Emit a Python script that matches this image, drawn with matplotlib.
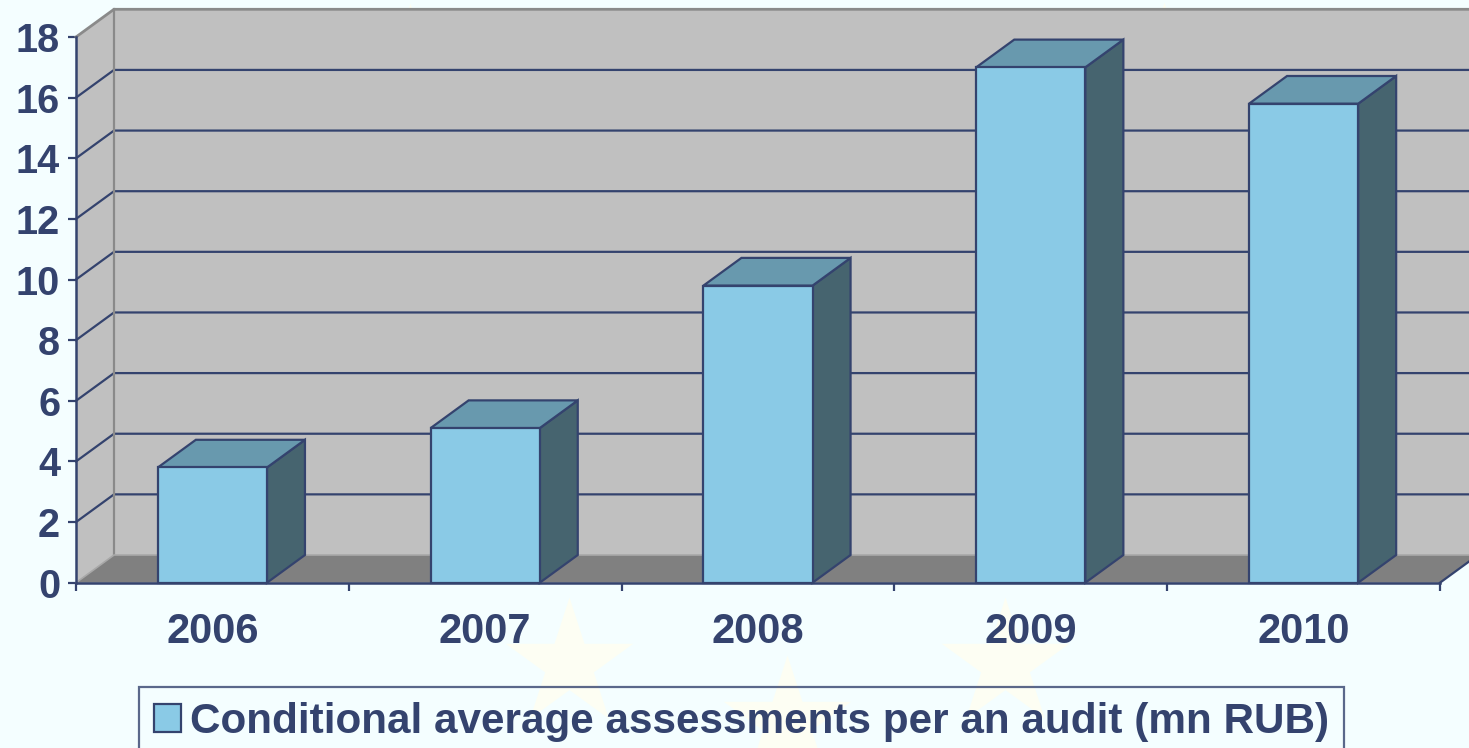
import numpy as np
import matplotlib.pyplot as plt
from matplotlib.patches import Polygon, Patch

# ---- data ----
years = ["2006", "2007", "2008", "2009", "2010"]
assessments = [3.8, 5.1, 9.8, 17.0, 15.8]
y_ticks = [0, 2, 4, 6, 8, 10, 12, 14, 16, 18]
series_name = "Conditional average assessments per an audit (mn RUB)"

# ---- style ----
BG = "#F4FEFF"
NAVY = "#34436E"
WALL = "#C0C0C0"
FLOOR = "#808080"
EDGE_GRAY = "#8A8A8A"
FRONT = "#8ACAE6"
TOP = "#6899AE"
SIDE = "#46646F"
STAR = "#FDFEF3"
FONT = "Liberation Sans"

W, H, DPI = 1469, 748, 100
fig = plt.figure(figsize=(W / DPI, H / DPI), dpi=DPI, facecolor=BG)

# faint decorative ring of stars behind the chart (pixel space)
bg = fig.add_axes([0, 0, 1, 1], zorder=0)
bg.set_xlim(0, W)
bg.set_ylim(H, 0)
bg.axis("off")
ang = np.deg2rad(np.arange(12) * 30)
ring_x = 787 - 435 * np.sin(ang)
ring_y = 287 + 435 * np.cos(ang)
bg.scatter(ring_x, ring_y, marker="*", s=9300, color=STAR, linewidths=0)

# main plot: front plane of the 3-D box
left, right, top, base = 76, 1440, 37, 582.7
ax = fig.add_axes([left / W, (H - base) / H, (right - left) / W, (base - top) / H],
                  zorder=1)
ax.set_facecolor("none")
n = len(years)
ymax = 18
ax.set_xlim(0, n)
ax.set_ylim(0, ymax)

# depth offset of the back wall, in data units
dx = 38 / ((right - left) / n)
dy = 27.7 / ((base - top) / ymax)

kw = dict(clip_on=False)
# back wall, side wall, floor
ax.add_patch(Polygon([(dx, dy), (n + dx + 1, dy), (n + dx + 1, ymax + dy), (dx, ymax + dy)],
                     closed=True, facecolor=WALL, edgecolor="none", zorder=1, **kw))
ax.add_patch(Polygon([(0, 0), (dx, dy), (dx, ymax + dy), (0, ymax)],
                     closed=True, facecolor=WALL, edgecolor="none", zorder=1, **kw))
ax.add_patch(Polygon([(0, 0), (n, 0), (n + dx, dy), (dx, dy)],
                     closed=True, facecolor=FLOOR, edgecolor="none", zorder=1, **kw))

# gridlines on side and back walls
for v in y_ticks[1:-1]:
    ax.plot([0, dx, n + dx + 1], [v, v + dy, v + dy], color=NAVY, lw=1.6,
            zorder=2, **kw)
# wall outlines
ax.plot([0, dx, n + dx + 1], [ymax, ymax + dy, ymax + dy], color=EDGE_GRAY, lw=2,
        zorder=2, **kw)
ax.plot([dx, dx], [dy, ymax + dy], color=EDGE_GRAY, lw=1.6, zorder=2, **kw)
ax.plot([0, dx, n + dx + 1], [0, dy, dy], color="#A8A8A8", lw=1.2, zorder=2, **kw)
ax.plot([n, n + dx], [0, dy], color=NAVY, lw=1.6, zorder=2, **kw)

# 3-D bars
bw = 0.4
for i, v in enumerate(assessments):
    x0 = i + 0.5 - bw / 2
    x1 = x0 + bw
    ax.add_patch(Polygon([(x1, 0), (x1 + dx, dy), (x1 + dx, v + dy), (x1, v)],
                         closed=True, facecolor=SIDE, edgecolor=NAVY, lw=1.6,
                         joinstyle="miter", zorder=3, **kw))
    ax.add_patch(Polygon([(x0, v), (x1, v), (x1 + dx, v + dy), (x0 + dx, v + dy)],
                         closed=True, facecolor=TOP, edgecolor=NAVY, lw=1.6,
                         joinstyle="miter", zorder=3, **kw))
    ax.add_patch(Polygon([(x0, 0), (x1, 0), (x1, v), (x0, v)],
                         closed=True, facecolor=FRONT, edgecolor=NAVY, lw=1.6,
                         joinstyle="miter", zorder=4, **kw))

# axes, ticks and labels
for s in ["top", "right"]:
    ax.spines[s].set_visible(False)
for s in ["left", "bottom"]:
    ax.spines[s].set_color(NAVY)
    ax.spines[s].set_linewidth(1.8)
    ax.spines[s].set_zorder(5)

ax.set_yticks(y_ticks)
ax.set_yticklabels([str(t) for t in y_ticks])
ax.tick_params(axis="y", direction="out", length=6, width=1.6, color=NAVY,
               pad=5.5, labelsize=28.5, labelcolor=NAVY)

ax.set_xticks(np.arange(n) + 0.5)
ax.set_xticklabels(years)
ax.set_xticks(np.arange(n + 1), minor=True)
ax.tick_params(axis="x", which="major", length=0, pad=21, labelsize=30,
               labelcolor=NAVY)
ax.tick_params(axis="x", which="minor", direction="out", length=6, width=1.6,
               color=NAVY)
for lab in ax.get_xticklabels() + ax.get_yticklabels():
    lab.set_fontfamily(FONT)
    lab.set_fontweight("bold")

# legend
handle = Patch(facecolor=FRONT, edgecolor=NAVY, linewidth=1.6)
leg = fig.legend([handle], [series_name], loc="upper left",
                 bbox_to_anchor=(139 / W, 1 - 687 / H),
                 prop=dict(family=FONT, weight="bold", size=30.4),
                 frameon=True, fancybox=False, borderpad=0.36,
                 handlelength=0.64, handleheight=0.64, handletextpad=0.2,
                 borderaxespad=0)
leg.get_frame().set_edgecolor(NAVY)
leg.get_frame().set_linewidth(1.6)
leg.get_frame().set_facecolor("none")
for t in leg.get_texts():
    t.set_color(NAVY)
leg.set_zorder(6)

fig.savefig("out.png", dpi=DPI, facecolor=BG)
